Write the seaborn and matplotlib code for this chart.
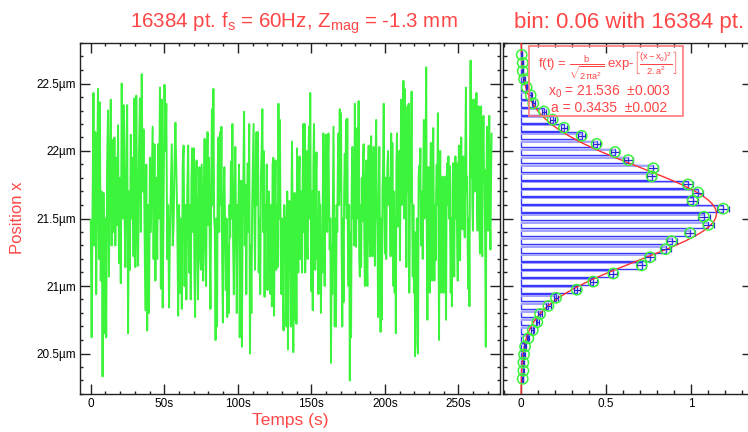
import numpy as np
import pandas as pd
import matplotlib
matplotlib.use("Agg")
import matplotlib.pyplot as plt
import seaborn as sns
from matplotlib.ticker import MultipleLocator, FixedLocator, FuncFormatter
from matplotlib.patches import Rectangle

# ---------------- data ----------------
# bead position x (µm) over the recording, stored in four consecutive time blocks
block_edges = [0.0, 67.5, 135.6, 203.5, 273.0]

trace_block1 = [
    21.49, 20.62, 21.6, 22.43, 21.3, 22.14, 20.94, 21.8, 22.46, 21.2, 22.36, 21.04, 21.7, 20.33,
    21.69, 20.65, 21.5, 20.62, 21.9, 22.30, 21.07, 21.85, 22.38, 21.3, 22.08, 21.4, 22.1, 21.3,
    21.95, 21.45, 22.19, 21.17, 21.8, 21.02, 22.5, 21.5, 22.34, 21.6, 21.14, 22.0, 22.34, 20.65,
    21.7, 21.12, 22.12, 21.5, 21.95, 21.22, 22.39, 21.14, 22.41, 21.5, 21.15, 22.0, 22.39, 21.4,
    22.57, 21.7, 22.16, 21.5, 20.82, 21.9, 20.67, 21.6, 20.8, 21.95, 21.4, 21.8, 22.18, 21.2,
    22.05, 21.04, 21.8, 21.2, 22.05, 21.5, 22.47, 20.98, 22.38, 20.84, 21.6, 22.49, 22.0, 22.35,
    21.2, 21.6, 20.84, 21.4, 21.72, 22.05, 21.3, 21.45, 21.9, 22.21, 21.85, 21.5, 20.78, 21.6,
    20.95, 21.5, 20.83, 21.9, 22.04, 21.0, 21.6, 20.9, 21.7, 22.04, 21.1,
]
trace_block2 = [
    21.6, 20.9, 21.8, 22.02, 21.4, 22.02, 21.1, 20.77, 21.7, 21.93, 21.3, 20.9, 21.6, 21.88,
    21.2, 21.12, 21.9, 21.5, 21.04, 21.7, 22.09, 21.3, 21.0, 21.8, 22.14, 21.45, 21.95, 21.3,
    20.83, 21.7, 22.31, 21.6, 22.46, 21.5, 21.41, 20.6, 21.5, 20.7, 21.9, 22.1, 21.4, 22.14,
    21.6, 22.18, 21.2, 20.73, 21.6, 21.88, 21.4, 20.97, 21.5, 20.77, 21.3, 20.8, 21.6, 21.36,
    21.92, 21.5, 22.2, 21.3, 20.94, 21.7, 22.03, 21.4, 20.8, 21.6, 21.37, 21.9, 20.62, 21.5,
    21.78, 20.55, 21.5, 21.8, 22.29, 21.3, 21.75, 20.94, 21.6, 21.91, 21.4, 22.2, 20.5, 21.3,
    20.8, 21.58, 21.9, 22.2, 21.5, 21.12, 21.8, 22.14, 21.6, 22.14, 21.1, 21.5, 20.94, 21.8,
    22.0, 22.31, 21.4, 22.0, 20.92, 21.6, 21.41, 21.9, 20.97, 21.6, 21.7, 21.4, 20.94, 21.6,
    20.85, 21.9, 21.95, 20.78, 21.6, 21.93, 21.12, 21.6, 21.14, 22.35, 21.5, 22.23, 21.3, 20.94,
    21.5, 21.0, 20.67, 21.6, 21.39, 21.5, 20.7, 21.7, 20.53, 21.6, 21.63,
]
trace_block3 = [
    21.3, 20.7, 21.6, 22.07, 21.4, 20.51, 21.2, 21.69, 20.75, 21.5, 20.72, 22.02, 21.5, 21.1,
    21.8, 21.96, 21.2, 21.45, 21.7, 21.1, 21.85, 22.2, 21.4, 22.2, 21.1, 21.7, 22.0, 21.3,
    21.2, 21.9, 22.18, 21.5, 22.43, 21.4, 20.96, 21.7, 20.82, 21.9, 22.2, 21.5, 21.12, 21.8,
    21.99, 21.2, 21.5, 20.94, 21.7, 21.57, 21.6, 20.8, 21.3, 21.1, 21.7, 22.13, 21.3, 21.0,
    21.8, 22.12, 21.5, 21.4, 21.9, 22.13, 21.6, 21.27, 21.5, 20.43, 21.3, 20.94, 21.6, 22.18,
    21.4, 20.7, 21.5, 20.7, 21.6, 21.4, 21.9, 22.13, 21.6, 22.31, 21.7, 22.28, 21.3, 20.7,
    21.5, 20.88, 21.7, 21.98, 21.6, 22.23, 21.5, 22.24, 21.3, 21.0, 21.6, 20.3, 21.4, 20.62,
    21.7, 22.03, 21.5, 21.93, 21.3, 22.35, 21.5, 21.29, 21.8, 22.17, 21.5, 22.37, 21.2, 21.07,
    21.6, 21.14, 21.8, 21.48, 21.9, 22.05, 21.4, 21.0, 21.7, 21.93, 21.2, 21.0, 21.8, 22.04,
    21.5, 21.22, 21.9, 22.11, 21.4, 21.22, 21.8, 22.03, 21.4, 21.15, 21.9, 22.23, 21.6, 21.45,
    20.77, 21.6, 22.03, 21.4, 20.66, 21.5, 20.75, 21.7, 21.9, 22.35, 21.6, 21.24, 21.8, 21.2,
    21.7, 21.91, 22.0, 21.6, 21.8,
]
trace_block4 = [
    21.6, 21.22, 22.13, 21.4, 22.06, 21.5, 21.0, 21.7, 20.95, 21.5, 20.65, 21.9, 22.13, 21.5,
    21.44, 21.9, 22.0, 21.19, 21.8, 22.38, 21.6, 22.35, 21.8, 22.52, 21.5, 22.46, 21.6, 21.94,
    21.14, 21.9, 22.33, 21.7, 22.35, 20.95, 21.6, 21.65, 22.0, 22.44, 21.5, 21.07, 21.6, 20.95,
    21.4, 20.48, 21.3, 20.85, 21.5, 20.58, 20.5, 21.8, 21.89, 21.7, 22.02, 21.3, 21.34, 21.7,
    21.2, 21.8, 22.23, 21.5, 21.56, 22.0, 22.62, 21.4, 20.75, 21.6, 21.88, 21.3, 20.95, 21.8,
    22.06, 21.3, 21.04, 21.7, 22.17, 21.5, 21.04, 21.6, 21.19, 21.7, 21.9, 21.6, 22.28, 21.5,
    20.6, 21.6, 22.0, 21.4, 20.95, 21.6, 21.81, 21.4, 20.95, 21.7, 21.81, 21.3, 20.75, 21.8,
    21.91, 21.6, 21.96, 21.5, 21.89, 21.4, 20.95, 21.5, 20.85, 21.7, 21.91, 21.4, 21.07, 21.8,
    21.96, 21.5, 21.91, 21.3, 21.04, 21.7, 22.04, 21.5, 21.19, 21.8, 22.1, 21.6, 21.42, 21.9,
    21.96, 21.5, 21.36, 22.0, 22.47, 21.7, 21.81, 21.3, 20.98, 21.5, 20.85, 22.0, 22.67, 21.8,
    22.38, 21.6, 21.41, 22.0, 22.38, 21.7, 22.18, 21.8, 22.43, 21.6, 21.41, 22.1, 22.33, 21.5,
    21.24, 22.0, 22.33, 21.4, 21.22, 22.0, 22.26, 21.8, 21.86, 21.3, 20.55, 21.7, 22.18, 21.6,
    21.41, 22.0, 22.26, 21.5, 21.27, 21.8, 22.13,
]
trace_blocks = [trace_block1, trace_block2, trace_block3, trace_block4]

# histogram of x (probability density per µm), bins of 0.06 µm
n_points = 16384
bin_width = 0.06
lowest_bin_center = 20.3125
hist_density = [
    0.010, 0.014, 0.014, 0.018, 0.024, 0.043, 0.069, 0.096, 0.112, 0.161,
    0.206, 0.328, 0.425, 0.543, 0.710, 0.759, 0.851, 0.886, 0.994, 1.102,
    1.076, 1.190, 1.010, 1.041, 0.982, 0.769, 0.778, 0.631, 0.553, 0.445,
    0.357, 0.253, 0.186, 0.135, 0.072, 0.057, 0.033, 0.018, 0.010, 0.010,
    0.004,
]

# gaussian fit parameters
fit_x0 = 21.536
fit_x0_err = 0.003
fit_a = 0.3435
fit_a_err = 0.002
fit_b = 0.99

# ---------------- style ----------------
RED = "#ff4646"
GREEN = "#3cf43c"
BLUE = "#3a3aff"
AXC = "#222222"

sns.set_theme(style="ticks")
plt.rcParams["font.family"] = ["Liberation Sans", "DejaVu Sans"]
plt.rcParams.update({
    "mathtext.fontset": "custom",
    "mathtext.rm": "Liberation Sans",
    "mathtext.it": "Liberation Sans",
    "mathtext.bf": "Liberation Sans:bold",
    "mathtext.sf": "Liberation Sans",
    "axes.edgecolor": AXC,
    "axes.linewidth": 1.0,
})

W, H = 748, 432
fig = plt.figure(figsize=(W / 100, H / 100), dpi=100)


def px_rect(x0, x1, ytop, ybot):
    return [x0 / W, 1 - ybot / H, (x1 - x0) / W, (ybot - ytop) / H]


ax = fig.add_axes(px_rect(80, 500, 43, 394))
axh = fig.add_axes(px_rect(503, 752, 43, 394))

# ---------------- time trace ----------------
frames = []
for (t0, t1), vals in zip(zip(block_edges[:-1], block_edges[1:]), trace_blocks):
    tt = np.linspace(t0, t1, len(vals), endpoint=False)
    frames.append(pd.DataFrame({"t": tt, "x": vals}))
trace = pd.concat(frames, ignore_index=True)

sns.lineplot(data=trace, x="t", y="x", ax=ax, sort=False, estimator=None,
             color=GREEN, lw=1.4)

ax.set_xlim(-7.3, 278.3)
ax.set_ylim(20.20, 22.80)
ax.xaxis.set_major_locator(MultipleLocator(50))
ax.xaxis.set_minor_locator(MultipleLocator(10))
ax.yaxis.set_major_locator(MultipleLocator(0.5))
ax.yaxis.set_minor_locator(MultipleLocator(0.1))
ax.xaxis.set_major_formatter(FuncFormatter(lambda v, p: "0" if abs(v) < 1e-9 else f"{v:.0f}s"))
ax.yaxis.set_major_formatter(FuncFormatter(lambda v, p: f"{v:g}µm"))
ax.tick_params(which="both", direction="in", top=True, right=True, colors=AXC,
               labelcolor="black", labelsize=8.5)
ax.tick_params(which="major", length=7.5, width=1.0, pad=3)
ax.tick_params(which="minor", length=2.5, width=1.0)
ax.set_xlabel("")
ax.set_ylabel("")

# ---------------- histogram ----------------
centers = lowest_bin_center + bin_width * np.arange(len(hist_density))
dens = np.array(hist_density)
hist = pd.DataFrame({"center": centers, "density": dens})
hist["err"] = np.sqrt(hist["density"] / (n_points * bin_width))

axh.barh(hist["center"], hist["density"], height=bin_width * 0.82,
         facecolor="white", edgecolor=BLUE, linewidth=1.0, zorder=2)
axh.barh(hist["center"] + bin_width * 0.25, hist["density"], height=bin_width * 0.2,
         facecolor="#a4a4ff", edgecolor="none", zorder=2)

yy = np.linspace(20.2, 22.8, 500)
fit = pd.DataFrame({
    "y": yy,
    "f": fit_b / np.sqrt(2 * np.pi * fit_a ** 2) * np.exp(-(yy - fit_x0) ** 2 / (2 * fit_a ** 2)),
})
sns.lineplot(data=fit, x="f", y="y", ax=axh, sort=False, estimator=None,
             color="#ff3030", lw=1.0, zorder=4)

axh.errorbar(hist["density"], hist["center"], xerr=hist["err"], fmt="none",
             ecolor="#2a2ac8", elinewidth=0.9, capsize=2.5, capthick=0.9, zorder=5)
sns.scatterplot(data=hist, x="density", y="center", ax=axh, marker="o", s=55,
                facecolor="none", edgecolor=GREEN, linewidth=1.1, zorder=6)

axh.set_xlim(-0.106, 1.359)
axh.set_ylim(20.20, 22.80)
axh.xaxis.set_major_locator(FixedLocator([0, 0.5, 1.0]))
axh.xaxis.set_minor_locator(MultipleLocator(0.1))
axh.xaxis.set_major_formatter(FuncFormatter(lambda v, p: f"{v:g}"))
axh.yaxis.set_major_locator(MultipleLocator(0.5))
axh.yaxis.set_minor_locator(MultipleLocator(0.1))
axh.tick_params(which="both", direction="in", top=True, right=True, colors=AXC,
                labelcolor="black", labelsize=8.5, labelleft=False)
axh.tick_params(which="major", length=7.5, width=1.0, pad=3)
axh.tick_params(which="minor", length=3.0, width=1.0)
axh.set_xlabel("")
axh.set_ylabel("")

# fit legend box
fig.patches.append(Rectangle((529 / W, 1 - 116 / H), (683 - 529) / W, (116 - 46) / H,
                             transform=fig.transFigure, fill=False,
                             edgecolor="#ff7a7a", linewidth=1.2, zorder=10))
fig.text(608 / W, 1 - 66 / H,
         r"f(t) = $\frac{b}{\sqrt{2\pi a^2}}$ exp-$\left[\frac{(x - x_0)^2}{2.a^2}\right]$",
         color=RED, fontsize=9.5, ha="center", va="center")
fig.text(609 / W, 1 - 96 / H, f"x$_0$ = {fit_x0}  ±{fit_x0_err}",
         color=RED, fontsize=10, ha="center", va="baseline")
fig.text(609 / W, 1 - 111.5 / H, f"a = {fit_a}  ±{fit_a_err}",
         color=RED, fontsize=10, ha="center", va="baseline")

# ---------------- titles and labels ----------------
fig.text(294 / W, 1 - 28 / H,
         r"16384 pt. f$_\mathregular{s}$ = 60Hz, Z$_\mathregular{mag}$ = -1.3 mm",
         color=RED, fontsize=14.8, ha="center", va="baseline")
fig.text(629 / W, 1 - 28 / H, "bin: 0.06 with 16384 pt.",
         color=RED, fontsize=16, ha="center", va="baseline")
fig.text(290 / W, 1 - 425 / H, "Temps (s)", color=RED, fontsize=12.5,
         ha="center", va="baseline")
fig.text(17 / W, 1 - 218 / H, "Position x", color=RED, fontsize=12,
         ha="center", va="center", rotation=90)

fig.savefig("out.png", dpi=100)
